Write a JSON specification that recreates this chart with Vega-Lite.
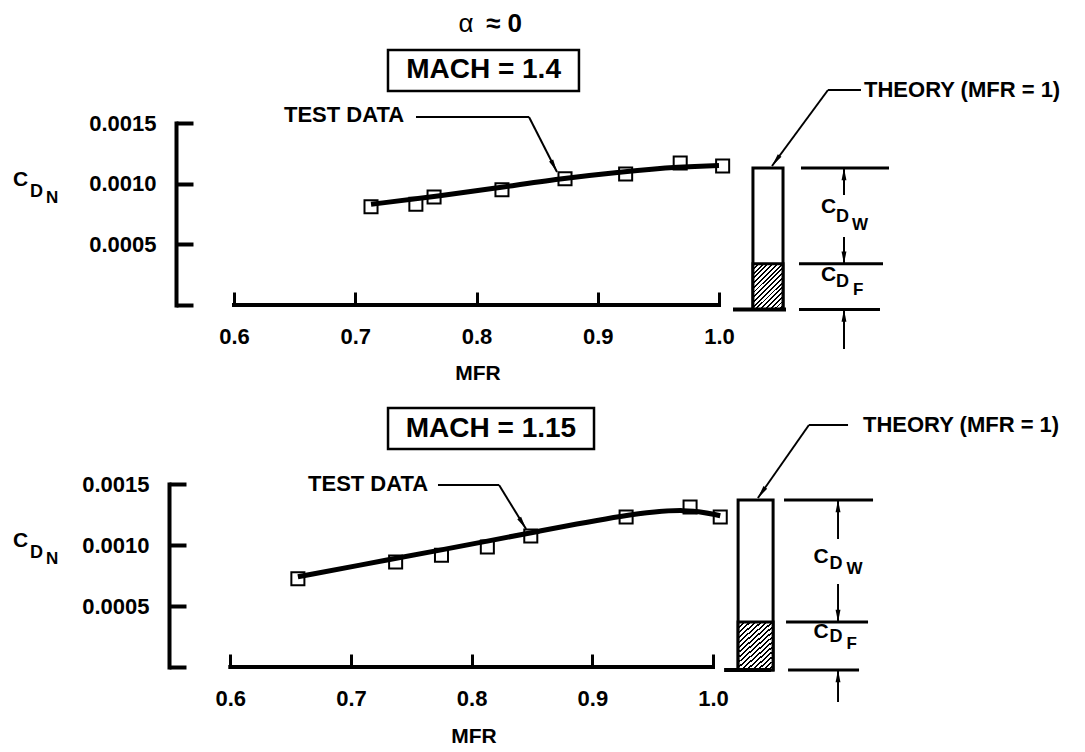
{
 "$schema": "https://vega.github.io/schema/vega-lite/v6.json",
 "background": "white",
 "padding": {"left": 12, "top": 10, "right": 5, "bottom": 5},
 "autosize": {"type": "pad"},
 "bounds": "flush",
 "spacing": 179,
 "config": {
  "view": {"stroke": null},
  "text": {"font": "Liberation Sans", "fontWeight": "bold", "color": "black"},
  "rule": {"color": "black"},
  "axis": {"labelFont": "Liberation Sans", "labelFontWeight": "bold", "labelFontSize": 22, "labelColor": "black", "labelFlush": false, "grid": false, "tickColor": "black", "domainColor": "black"}
 },
 "datasets": {
  "top_points": [
   {"MFR": 0.713, "CDN": 0.00081}, {"MFR": 0.750, "CDN": 0.00083}, {"MFR": 0.765, "CDN": 0.00089},
   {"MFR": 0.821, "CDN": 0.00095}, {"MFR": 0.873, "CDN": 0.00104}, {"MFR": 0.923, "CDN": 0.00108},
   {"MFR": 0.968, "CDN": 0.00117}, {"MFR": 1.003, "CDN": 0.001145}
  ],
  "top_curve": [
   {"MFR": 0.713, "CDN": 0.00083}, {"MFR": 0.771, "CDN": 0.00090}, {"MFR": 0.821, "CDN": 0.00097},
   {"MFR": 0.868, "CDN": 0.00104}, {"MFR": 0.921, "CDN": 0.00110}, {"MFR": 0.969, "CDN": 0.00114},
   {"MFR": 1.0, "CDN": 0.00115}
  ],
  "top_theory": [{"total": 0.001129, "friction": 0.00034}],
  "bottom_points": [
   {"MFR": 0.656, "CDN": 0.000724}, {"MFR": 0.737, "CDN": 0.00086}, {"MFR": 0.775, "CDN": 0.000916},
   {"MFR": 0.813, "CDN": 0.000984}, {"MFR": 0.849, "CDN": 0.001074}, {"MFR": 0.928, "CDN": 0.00123},
   {"MFR": 0.981, "CDN": 0.001311}, {"MFR": 1.006, "CDN": 0.00123}
  ],
  "bottom_curve": [
   {"MFR": 0.656, "CDN": 0.00074}, {"MFR": 0.737, "CDN": 0.00089}, {"MFR": 0.775, "CDN": 0.00096},
   {"MFR": 0.812, "CDN": 0.00103}, {"MFR": 0.849, "CDN": 0.00110}, {"MFR": 0.928, "CDN": 0.00125},
   {"MFR": 0.979, "CDN": 0.0013}, {"MFR": 1.006, "CDN": 0.00124}
  ],
  "bottom_theory": [{"total": 0.001369, "friction": 0.000369}]
 },
 "vconcat": [
  {
   "width": 543, "height": 182,
   "data": {"name": "top_theory"},
   "layer": [
    {"data": {"name": "top_points"},
     "mark": {"type": "point", "shape": "square", "size": 170, "filled": false, "color": "black", "strokeWidth": 2, "opacity": 1},
     "encoding": {
      "x": {"field": "MFR", "type": "quantitative", "title": null, "scale": {"domain": [0.55216, 1.0], "nice": false, "zero": false},
            "axis": {"values": [0.6, 0.7, 0.8, 0.9, 1.0], "format": ".1f", "domain": false, "tickSize": -13, "tickWidth": 3, "labelPadding": 34}},
      "y": {"field": "CDN", "type": "quantitative", "title": null, "scale": {"domain": [0, 0.0015], "nice": false, "zero": false},
            "axis": {"values": [0, 0.0005, 0.001, 0.0015], "format": ".4f", "labelExpr": "datum.value == 0 ? '' : datum.label", "domainWidth": 4, "domainCap": "square", "tickSize": -17, "tickWidth": 4, "labelPadding": 37}}
     }},
    {"data": {"name": "top_curve"},
     "mark": {"type": "line", "interpolate": "basis", "color": "black", "strokeWidth": 5},
     "encoding": {"x": {"field": "MFR", "type": "quantitative", "title": null}, "y": {"field": "CDN", "type": "quantitative", "title": null}}},
    {"mark": {"type": "rule", "strokeWidth": 4, "strokeCap": "square"}, "encoding": {"x": {"datum": 0.6}, "x2": {"datum": 1.0}, "y": {"datum": 0}}},
    {"mark": {"type": "text", "text": "α", "align": "center", "baseline": "middle", "fontSize": 26, "fontWeight": "normal"}, "encoding": {"x": {"datum": 0.7913}, "y": {"datum": 0.002316}}},
    {"mark": {"type": "text", "text": "≈ 0", "align": "left", "baseline": "middle", "fontSize": 26}, "encoding": {"x": {"datum": 0.8078}, "y": {"datum": 0.002316}}},
    {"mark": {"type": "rect", "fillOpacity": 0, "stroke": "black", "strokeWidth": 2.5}, "encoding": {"x": {"datum": 0.727}, "x2": {"datum": 0.8845}, "y": {"datum": 0.0021016}, "y2": {"datum": 0.0017637}}},
    {"mark": {"type": "text", "text": "MACH = 1.4", "align": "center", "baseline": "middle", "fontSize": 28}, "encoding": {"x": {"datum": 0.8058}, "y": {"datum": 0.0019327}}},
    {"mark": {"type": "text", "text": "TEST DATA", "align": "left", "baseline": "middle", "fontSize": 22}, "encoding": {"x": {"datum": 0.6412}, "y": {"datum": 0.0015659}}},
    {"mark": {"type": "rule", "strokeWidth": 2}, "encoding": {"x": {"datum": 0.7501}, "x2": {"datum": 0.8433}, "y": {"datum": 0.0015495}}},
    {"mark": {"type": "rule", "strokeWidth": 2}, "encoding": {"x": {"datum": 0.8433}, "x2": {"datum": 0.8664}, "y": {"datum": 0.0015495}, "y2": {"datum": 0.0010962}}},
    {"mark": {"type": "point", "shape": "M0,0L0.35,2L-0.35,2Z", "size": 169, "filled": true, "color": "black", "opacity": 1, "angle": 153}, "encoding": {"x": {"datum": 0.8664}, "y": {"datum": 0.0010962}}},
    {"mark": {"type": "text", "text": "THEORY (MFR = 1)", "align": "left", "baseline": "middle", "fontSize": 22}, "encoding": {"x": {"datum": 1.1196}, "y": {"datum": 0.001772}}},
    {"mark": {"type": "rule", "strokeWidth": 2}, "encoding": {"x": {"datum": 1.1171}, "x2": {"datum": 1.0899}, "y": {"datum": 0.001772}}},
    {"mark": {"type": "rule", "strokeWidth": 2}, "encoding": {"x": {"datum": 1.0899}, "x2": {"datum": 1.04371}, "y": {"datum": 0.001772}, "y2": {"datum": 0.0011456}}},
    {"mark": {"type": "point", "shape": "M0,0L0.35,2L-0.35,2Z", "size": 169, "filled": true, "color": "black", "opacity": 1, "angle": 216}, "encoding": {"x": {"datum": 1.04371}, "y": {"datum": 0.0011456}}},
    {"mark": {"type": "rect", "fill": "white", "stroke": "black", "strokeWidth": 3}, "encoding": {"x": {"datum": 1.028}, "x2": {"datum": 1.0528}, "y": {"field": "total", "type": "quantitative", "title": null}, "y2": {"datum": -0.000037}}},
    {"mark": {"type": "rect", "stroke": "black", "strokeWidth": 3,
      "fill": {"gradient": "linear", "x1": 0, "y1": 0, "x2": 0.756, "y2": 1.159, "stops": [
       {"offset": 0, "color": "black"}, {"offset": 0.025, "color": "black"}, {"offset": 0.025, "color": "white"}, {"offset": 0.0625, "color": "white"},
       {"offset": 0.0625, "color": "black"}, {"offset": 0.0875, "color": "black"}, {"offset": 0.0875, "color": "white"}, {"offset": 0.125, "color": "white"},
       {"offset": 0.125, "color": "black"}, {"offset": 0.15, "color": "black"}, {"offset": 0.15, "color": "white"}, {"offset": 0.1875, "color": "white"},
       {"offset": 0.1875, "color": "black"}, {"offset": 0.2125, "color": "black"}, {"offset": 0.2125, "color": "white"}, {"offset": 0.25, "color": "white"},
       {"offset": 0.25, "color": "black"}, {"offset": 0.275, "color": "black"}, {"offset": 0.275, "color": "white"}, {"offset": 0.3125, "color": "white"},
       {"offset": 0.3125, "color": "black"}, {"offset": 0.3375, "color": "black"}, {"offset": 0.3375, "color": "white"}, {"offset": 0.375, "color": "white"},
       {"offset": 0.375, "color": "black"}, {"offset": 0.4, "color": "black"}, {"offset": 0.4, "color": "white"}, {"offset": 0.4375, "color": "white"},
       {"offset": 0.4375, "color": "black"}, {"offset": 0.4625, "color": "black"}, {"offset": 0.4625, "color": "white"}, {"offset": 0.5, "color": "white"},
       {"offset": 0.5, "color": "black"}, {"offset": 0.525, "color": "black"}, {"offset": 0.525, "color": "white"}, {"offset": 0.5625, "color": "white"},
       {"offset": 0.5625, "color": "black"}, {"offset": 0.5875, "color": "black"}, {"offset": 0.5875, "color": "white"}, {"offset": 0.625, "color": "white"},
       {"offset": 0.625, "color": "black"}, {"offset": 0.65, "color": "black"}, {"offset": 0.65, "color": "white"}, {"offset": 0.6875, "color": "white"},
       {"offset": 0.6875, "color": "black"}, {"offset": 0.7125, "color": "black"}, {"offset": 0.7125, "color": "white"}, {"offset": 0.75, "color": "white"},
       {"offset": 0.75, "color": "black"}, {"offset": 0.775, "color": "black"}, {"offset": 0.775, "color": "white"}, {"offset": 0.8125, "color": "white"},
       {"offset": 0.8125, "color": "black"}, {"offset": 0.8375, "color": "black"}, {"offset": 0.8375, "color": "white"}, {"offset": 0.875, "color": "white"},
       {"offset": 0.875, "color": "black"}, {"offset": 0.9, "color": "black"}, {"offset": 0.9, "color": "white"}, {"offset": 0.9375, "color": "white"},
       {"offset": 0.9375, "color": "black"}, {"offset": 0.9625, "color": "black"}, {"offset": 0.9625, "color": "white"}, {"offset": 1, "color": "white"}
      ]}},
     "encoding": {"x": {"datum": 1.028}, "x2": {"datum": 1.0528}, "y": {"field": "friction", "type": "quantitative", "title": null}, "y2": {"datum": -0.000037}}},
    {"mark": {"type": "rule", "strokeWidth": 4}, "encoding": {"x": {"datum": 1.01155}, "x2": {"datum": 1.05526}, "y": {"datum": -0.000037}}},
    {"mark": {"type": "rule", "strokeWidth": 3}, "encoding": {"x": {"datum": 1.06763}, "x2": {"datum": 1.14021}, "y": {"field": "total", "type": "quantitative", "title": null}}},
    {"mark": {"type": "rule", "strokeWidth": 3}, "encoding": {"x": {"datum": 1.06598}, "x2": {"datum": 1.13526}, "y": {"field": "friction", "type": "quantitative", "title": null}}},
    {"mark": {"type": "rule", "strokeWidth": 3}, "encoding": {"x": {"datum": 1.06598}, "x2": {"datum": 1.13278}, "y": {"datum": -0.000037}}},
    {"mark": {"type": "rule", "strokeWidth": 2}, "encoding": {"x": {"datum": 1.10309}, "y": {"datum": 0.001129}, "y2": {"datum": 0.0009066}}},
    {"mark": {"type": "rule", "strokeWidth": 2}, "encoding": {"x": {"datum": 1.10309}, "y": {"datum": 0.0005604}, "y2": {"datum": 0.00034}}},
    {"mark": {"type": "rule", "strokeWidth": 2}, "encoding": {"x": {"datum": 1.10309}, "y": {"datum": -0.000037}, "y2": {"datum": -0.0003626}}},
    {"mark": {"type": "point", "shape": "M0,0L0.4,2L-0.4,2Z", "size": 150, "filled": true, "color": "black", "opacity": 1, "angle": 0}, "encoding": {"x": {"datum": 1.10309}, "y": {"datum": 0.001129}}},
    {"mark": {"type": "point", "shape": "M0,0L0.4,2L-0.4,2Z", "size": 150, "filled": true, "color": "black", "opacity": 1, "angle": 180}, "encoding": {"x": {"datum": 1.10309}, "y": {"datum": 0.00034}}},
    {"mark": {"type": "point", "shape": "M0,0L0.4,2L-0.4,2Z", "size": 150, "filled": true, "color": "black", "opacity": 1, "angle": 0}, "encoding": {"x": {"datum": 1.10309}, "y": {"datum": -0.000037}}},
    {"mark": {"type": "text", "text": "C", "align": "left", "baseline": "middle", "fontSize": 21}, "encoding": {"x": {"datum": 1.08412}, "y": {"datum": 0.000808}}},
    {"mark": {"type": "text", "text": "D", "align": "left", "baseline": "middle", "fontSize": 18}, "encoding": {"x": {"datum": 1.09649}, "y": {"datum": 0.000725}}},
    {"mark": {"type": "text", "text": "W", "align": "left", "baseline": "middle", "fontSize": 17}, "encoding": {"x": {"datum": 1.10970}, "y": {"datum": 0.000659}}},
    {"mark": {"type": "text", "text": "C", "align": "left", "baseline": "middle", "fontSize": 21}, "encoding": {"x": {"datum": 1.08412}, "y": {"datum": 0.000247}}},
    {"mark": {"type": "text", "text": "D", "align": "left", "baseline": "middle", "fontSize": 18}, "encoding": {"x": {"datum": 1.09649}, "y": {"datum": 0.00019}}},
    {"mark": {"type": "text", "text": "F", "align": "left", "baseline": "middle", "fontSize": 17}, "encoding": {"x": {"datum": 1.11052}, "y": {"datum": 0.000124}}},
    {"mark": {"type": "text", "text": "C", "align": "left", "baseline": "middle", "fontSize": 21}, "encoding": {"x": {"datum": 0.4177}, "y": {"datum": 0.00103}}},
    {"mark": {"type": "text", "text": "D", "align": "left", "baseline": "middle", "fontSize": 18}, "encoding": {"x": {"datum": 0.4318}, "y": {"datum": 0.000931}}},
    {"mark": {"type": "text", "text": "N", "align": "left", "baseline": "middle", "fontSize": 17}, "encoding": {"x": {"datum": 0.4450}, "y": {"datum": 0.000882}}},
    {"mark": {"type": "text", "text": "MFR", "align": "center", "baseline": "middle", "fontSize": 21}, "encoding": {"x": {"datum": 0.8012}, "y": {"datum": -0.0005687}}}
   ]
  },
  {
   "width": 537, "height": 183,
   "data": {"name": "bottom_theory"},
   "layer": [
    {"data": {"name": "bottom_points"},
     "mark": {"type": "point", "shape": "square", "size": 170, "filled": false, "color": "black", "strokeWidth": 2, "opacity": 1},
     "encoding": {
      "x": {"field": "MFR", "type": "quantitative", "title": null, "scale": {"domain": [0.555, 1.0], "nice": false, "zero": false},
            "axis": {"values": [0.6, 0.7, 0.8, 0.9, 1.0], "format": ".1f", "domain": false, "tickSize": -13, "tickWidth": 3, "labelPadding": 34}},
      "y": {"field": "CDN", "type": "quantitative", "title": null, "scale": {"domain": [0, 0.0015], "nice": false, "zero": false},
            "axis": {"values": [0, 0.0005, 0.001, 0.0015], "format": ".4f", "labelExpr": "datum.value == 0 ? '' : datum.label", "offset": 7, "domainWidth": 4, "domainCap": "square", "tickSize": -17, "tickWidth": 4, "labelPadding": 37}}
     }},
    {"data": {"name": "bottom_curve"},
     "mark": {"type": "line", "interpolate": "basis", "color": "black", "strokeWidth": 5},
     "encoding": {"x": {"field": "MFR", "type": "quantitative", "title": null}, "y": {"field": "CDN", "type": "quantitative", "title": null}}},
    {"mark": {"type": "rule", "strokeWidth": 4, "strokeCap": "square"}, "encoding": {"x": {"datum": 0.6}, "x2": {"datum": 1.0}, "y": {"datum": 0}}},
    {"mark": {"type": "rect", "fillOpacity": 0, "stroke": "black", "strokeWidth": 2.5}, "encoding": {"x": {"datum": 0.7307}, "x2": {"datum": 0.9014}, "y": {"datum": 0.002123}, "y2": {"datum": 0.0017869}}},
    {"mark": {"type": "text", "text": "MACH = 1.15", "align": "center", "baseline": "middle", "fontSize": 28}, "encoding": {"x": {"datum": 0.816}, "y": {"datum": 0.0019549}}},
    {"mark": {"type": "text", "text": "TEST DATA", "align": "left", "baseline": "middle", "fontSize": 22}, "encoding": {"x": {"datum": 0.6644}, "y": {"datum": 0.0015}}},
    {"mark": {"type": "rule", "strokeWidth": 2}, "encoding": {"x": {"datum": 0.7721}, "x2": {"datum": 0.8227}, "y": {"datum": 0.0014918}}},
    {"mark": {"type": "rule", "strokeWidth": 2}, "encoding": {"x": {"datum": 0.8227}, "x2": {"datum": 0.8451}, "y": {"datum": 0.0014918}, "y2": {"datum": 0.0011311}}},
    {"mark": {"type": "point", "shape": "M0,0L0.35,2L-0.35,2Z", "size": 169, "filled": true, "color": "black", "opacity": 1, "angle": 148}, "encoding": {"x": {"datum": 0.8451}, "y": {"datum": 0.0011311}}},
    {"mark": {"type": "text", "text": "THEORY (MFR = 1)", "align": "left", "baseline": "middle", "fontSize": 22}, "encoding": {"x": {"datum": 1.1243}, "y": {"datum": 0.0019836}}},
    {"mark": {"type": "rule", "strokeWidth": 2}, "encoding": {"x": {"datum": 1.1119}, "x2": {"datum": 1.0795}, "y": {"datum": 0.0019836}}},
    {"mark": {"type": "rule", "strokeWidth": 2}, "encoding": {"x": {"datum": 1.0795}, "x2": {"datum": 1.0372}, "y": {"datum": 0.0019836}, "y2": {"datum": 0.0013852}}},
    {"mark": {"type": "point", "shape": "M0,0L0.35,2L-0.35,2Z", "size": 169, "filled": true, "color": "black", "opacity": 1, "angle": 215}, "encoding": {"x": {"datum": 1.0372}, "y": {"datum": 0.0013852}}},
    {"mark": {"type": "rect", "fill": "white", "stroke": "black", "strokeWidth": 3}, "encoding": {"x": {"datum": 1.0208}, "x2": {"datum": 1.0498}, "y": {"field": "total", "type": "quantitative", "title": null}, "y2": {"datum": -0.0000246}}},
    {"mark": {"type": "rect", "stroke": "black", "strokeWidth": 3,
      "fill": {"gradient": "linear", "x1": 0, "y1": 0, "x2": 0.756, "y2": 1.159, "stops": [
       {"offset": 0, "color": "black"}, {"offset": 0.025, "color": "black"}, {"offset": 0.025, "color": "white"}, {"offset": 0.0625, "color": "white"},
       {"offset": 0.0625, "color": "black"}, {"offset": 0.0875, "color": "black"}, {"offset": 0.0875, "color": "white"}, {"offset": 0.125, "color": "white"},
       {"offset": 0.125, "color": "black"}, {"offset": 0.15, "color": "black"}, {"offset": 0.15, "color": "white"}, {"offset": 0.1875, "color": "white"},
       {"offset": 0.1875, "color": "black"}, {"offset": 0.2125, "color": "black"}, {"offset": 0.2125, "color": "white"}, {"offset": 0.25, "color": "white"},
       {"offset": 0.25, "color": "black"}, {"offset": 0.275, "color": "black"}, {"offset": 0.275, "color": "white"}, {"offset": 0.3125, "color": "white"},
       {"offset": 0.3125, "color": "black"}, {"offset": 0.3375, "color": "black"}, {"offset": 0.3375, "color": "white"}, {"offset": 0.375, "color": "white"},
       {"offset": 0.375, "color": "black"}, {"offset": 0.4, "color": "black"}, {"offset": 0.4, "color": "white"}, {"offset": 0.4375, "color": "white"},
       {"offset": 0.4375, "color": "black"}, {"offset": 0.4625, "color": "black"}, {"offset": 0.4625, "color": "white"}, {"offset": 0.5, "color": "white"},
       {"offset": 0.5, "color": "black"}, {"offset": 0.525, "color": "black"}, {"offset": 0.525, "color": "white"}, {"offset": 0.5625, "color": "white"},
       {"offset": 0.5625, "color": "black"}, {"offset": 0.5875, "color": "black"}, {"offset": 0.5875, "color": "white"}, {"offset": 0.625, "color": "white"},
       {"offset": 0.625, "color": "black"}, {"offset": 0.65, "color": "black"}, {"offset": 0.65, "color": "white"}, {"offset": 0.6875, "color": "white"},
       {"offset": 0.6875, "color": "black"}, {"offset": 0.7125, "color": "black"}, {"offset": 0.7125, "color": "white"}, {"offset": 0.75, "color": "white"},
       {"offset": 0.75, "color": "black"}, {"offset": 0.775, "color": "black"}, {"offset": 0.775, "color": "white"}, {"offset": 0.8125, "color": "white"},
       {"offset": 0.8125, "color": "black"}, {"offset": 0.8375, "color": "black"}, {"offset": 0.8375, "color": "white"}, {"offset": 0.875, "color": "white"},
       {"offset": 0.875, "color": "black"}, {"offset": 0.9, "color": "black"}, {"offset": 0.9, "color": "white"}, {"offset": 0.9375, "color": "white"},
       {"offset": 0.9375, "color": "black"}, {"offset": 0.9625, "color": "black"}, {"offset": 0.9625, "color": "white"}, {"offset": 1, "color": "white"}
      ]}},
     "encoding": {"x": {"datum": 1.0208}, "x2": {"datum": 1.0498}, "y": {"field": "friction", "type": "quantitative", "title": null}, "y2": {"datum": -0.0000246}}},
    {"mark": {"type": "rule", "strokeWidth": 4}, "encoding": {"x": {"datum": 1.0092}, "x2": {"datum": 1.0481}, "y": {"datum": -0.0000246}}},
    {"mark": {"type": "rule", "strokeWidth": 3}, "encoding": {"x": {"datum": 1.05886}, "x2": {"datum": 1.13262}, "y": {"field": "total", "type": "quantitative", "title": null}}},
    {"mark": {"type": "rule", "strokeWidth": 3}, "encoding": {"x": {"datum": 1.06052}, "x2": {"datum": 1.12848}, "y": {"field": "friction", "type": "quantitative", "title": null}}},
    {"mark": {"type": "rule", "strokeWidth": 3}, "encoding": {"x": {"datum": 1.06218}, "x2": {"datum": 1.12102}, "y": {"datum": -0.0000246}}},
    {"mark": {"type": "rule", "strokeWidth": 2}, "encoding": {"x": {"datum": 1.10361}, "y": {"datum": 0.001369}, "y2": {"datum": 0.0010492}}},
    {"mark": {"type": "rule", "strokeWidth": 2}, "encoding": {"x": {"datum": 1.10361}, "y": {"datum": 0.0006803}, "y2": {"datum": 0.000369}}},
    {"mark": {"type": "rule", "strokeWidth": 2}, "encoding": {"x": {"datum": 1.10361}, "y": {"datum": -0.0000246}, "y2": {"datum": -0.0002869}}},
    {"mark": {"type": "point", "shape": "M0,0L0.4,2L-0.4,2Z", "size": 150, "filled": true, "color": "black", "opacity": 1, "angle": 0}, "encoding": {"x": {"datum": 1.10361}, "y": {"datum": 0.001369}}},
    {"mark": {"type": "point", "shape": "M0,0L0.4,2L-0.4,2Z", "size": 150, "filled": true, "color": "black", "opacity": 1, "angle": 180}, "encoding": {"x": {"datum": 1.10361}, "y": {"datum": 0.000369}}},
    {"mark": {"type": "point", "shape": "M0,0L0.4,2L-0.4,2Z", "size": 150, "filled": true, "color": "black", "opacity": 1, "angle": 0}, "encoding": {"x": {"datum": 1.10361}, "y": {"datum": -0.0000246}}},
    {"mark": {"type": "text", "text": "C", "align": "left", "baseline": "middle", "fontSize": 21}, "encoding": {"x": {"datum": 1.08328}, "y": {"datum": 0.000902}}},
    {"mark": {"type": "text", "text": "D", "align": "left", "baseline": "middle", "fontSize": 18}, "encoding": {"x": {"datum": 1.09654}, "y": {"datum": 0.000844}}},
    {"mark": {"type": "text", "text": "W", "align": "left", "baseline": "middle", "fontSize": 17}, "encoding": {"x": {"datum": 1.11064}, "y": {"datum": 0.000803}}},
    {"mark": {"type": "text", "text": "C", "align": "left", "baseline": "middle", "fontSize": 21}, "encoding": {"x": {"datum": 1.08328}, "y": {"datum": 0.000287}}},
    {"mark": {"type": "text", "text": "D", "align": "left", "baseline": "middle", "fontSize": 18}, "encoding": {"x": {"datum": 1.09654}, "y": {"datum": 0.000246}}},
    {"mark": {"type": "text", "text": "F", "align": "left", "baseline": "middle", "fontSize": 17}, "encoding": {"x": {"datum": 1.11064}, "y": {"datum": 0.000189}}},
    {"mark": {"type": "text", "text": "C", "align": "left", "baseline": "middle", "fontSize": 21}, "encoding": {"x": {"datum": 0.41992}, "y": {"datum": 0.001033}}},
    {"mark": {"type": "text", "text": "D", "align": "left", "baseline": "middle", "fontSize": 18}, "encoding": {"x": {"datum": 0.43401}, "y": {"datum": 0.000934}}},
    {"mark": {"type": "text", "text": "N", "align": "left", "baseline": "middle", "fontSize": 17}, "encoding": {"x": {"datum": 0.44727}, "y": {"datum": 0.000885}}},
    {"mark": {"type": "text", "text": "MFR", "align": "center", "baseline": "middle", "fontSize": 21}, "encoding": {"x": {"datum": 0.80196}, "y": {"datum": -0.0005738}}}
   ]
  }
 ]
}
